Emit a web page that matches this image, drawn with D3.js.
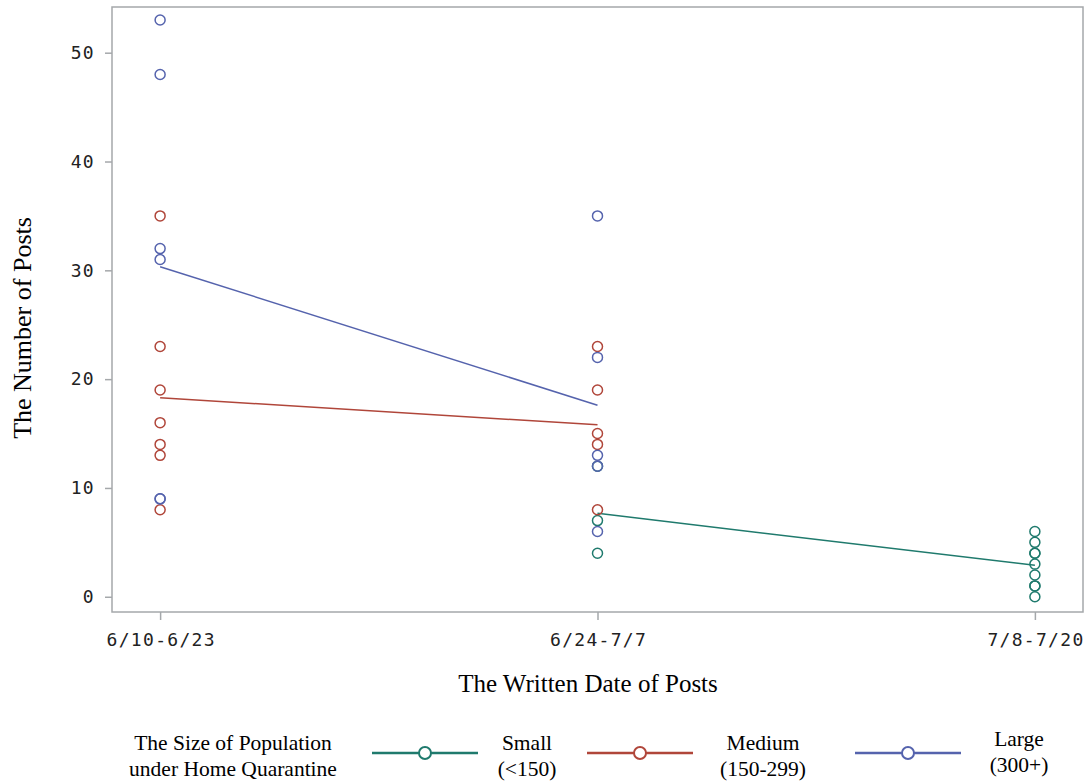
<!DOCTYPE html>
<html>
<head>
<meta charset="utf-8">
<script src="https://cdn.jsdelivr.net/npm/d3@7"></script>
<style>
  body { margin: 0; background: #fff; }
  .tick text { font-family: "DejaVu Sans Mono", monospace; font-size: 18px; letter-spacing: 1.3px; fill: #222; }
  .serif { font-family: "Liberation Serif", "Times New Roman", serif; fill: #000; }
</style>
</head>
<body>
<svg id="canvas" width="1084" height="783"></svg>
<script>
// periods on the x axis
const periods = ['6/10-6/23', '6/24-7/7', '7/8-7/20']

// posts per group and period
const smallPosts = [
    [],
    [7, 4, 12],
    [6, 5, 4, 4, 3, 2, 1, 1, 0]
]
const mediumPosts = [
    [35, 23, 19, 16, 14, 13, 8],
    [23, 19, 15, 14, 8],
    []
]
const largePosts = [
    [53, 48, 32, 31, 9, 9],
    [35, 22, 13, 12, 6],
    []
]

const groupNames = ['Small', 'Medium', 'Large']
const groupLabels = ['(<150)', '(150-299)', '(300+)']
const groupColors = ['#1f7a6d', '#b0463a', '#5563ad']
const yTicks = [0, 10, 20, 30, 40, 50]

const groups = [smallPosts, mediumPosts, largePosts]

let canvas = d3.select('#canvas')

const plotLeft = 112, plotRight = 1083, plotTop = 7, plotBottom = 612

let xScale = d3.scalePoint()
    .domain(periods)
    .range([plotLeft, plotRight])
    .padding(0.11)

let yScale = d3.scaleLinear()
    .domain([-1.4, 54.2])
    .range([plotBottom, plotTop])

// frame
canvas.append('rect')
    .attr('x', plotLeft)
    .attr('y', plotTop)
    .attr('width', plotRight - plotLeft)
    .attr('height', plotBottom - plotTop)
    .attr('fill', 'none')
    .attr('stroke', '#a5a8ab')
    .attr('stroke-width', 1.5)

let yAxis = canvas.append('g')
    .attr('transform', 'translate(' + plotLeft + ',0)')
    .call(d3.axisLeft(yScale).tickValues(yTicks).tickSize(7).tickPadding(10))
yAxis.select('.domain').remove()
yAxis.selectAll('line').attr('stroke', '#a5a8ab').attr('stroke-width', 1.5)

let xAxis = canvas.append('g')
    .attr('transform', 'translate(0,' + plotBottom + ')')
    .call(d3.axisBottom(xScale).tickSize(8).tickPadding(13))
xAxis.select('.domain').remove()
xAxis.selectAll('line').attr('stroke', '#a5a8ab').attr('stroke-width', 1.5)
xAxis.selectAll('text').attr('dx', '0.6px')

// mean lines
groups.forEach((g, i) => {
    let means = []
    g.forEach((vals, p) => {
        if (vals.length > 0) {
            means.push({ period: periods[p], value: d3.mean(vals) })
        }
    })
    let line = d3.line()
        .x((d) => xScale(d.period))
        .y((d) => yScale(d.value))
    canvas.append('path')
        .datum(means)
        .attr('d', line)
        .attr('fill', 'none')
        .attr('stroke', groupColors[i])
        .attr('stroke-width', 1.5)
})

// points
groups.forEach((g, i) => {
    let pts = []
    g.forEach((vals, p) => {
        vals.forEach((v) => pts.push({ period: periods[p], value: v }))
    })
    canvas.append('g')
        .selectAll('circle')
        .data(pts)
        .enter()
        .append('circle')
        .attr('cx', (d) => xScale(d.period))
        .attr('cy', (d) => yScale(d.value))
        .attr('r', 5)
        .attr('fill', 'none')
        .attr('stroke', groupColors[i])
        .attr('stroke-width', 1.5)
})

// axis titles
canvas.append('text')
    .attr('class', 'serif')
    .attr('x', 588)
    .attr('y', 692)
    .attr('text-anchor', 'middle')
    .attr('font-size', 25)
    .text('The Written Date of Posts')

canvas.append('text')
    .attr('class', 'serif')
    .attr('transform', 'translate(31,' + 328 + ') rotate(-90)')
    .attr('text-anchor', 'middle')
    .attr('font-size', 26)
    .text('The Number of Posts')

// legend
let legend = canvas.append('g')
legend.append('text')
    .attr('class', 'serif')
    .attr('x', 233)
    .attr('y', 750)
    .attr('text-anchor', 'middle')
    .attr('font-size', 21.5)
    .text('The Size of Population')
legend.append('text')
    .attr('class', 'serif')
    .attr('x', 233)
    .attr('y', 776)
    .attr('text-anchor', 'middle')
    .attr('font-size', 21.5)
    .text('under Home Quarantine')

const legendX = [372, 587, 855]
const legendTextX = [527, 763, 1019]
groupNames.forEach((name, i) => {
    let item = legend.append('g')
    item.append('line')
        .attr('x1', legendX[i])
        .attr('x2', legendX[i] + 106)
        .attr('y1', 753)
        .attr('y2', 753)
        .attr('stroke', groupColors[i])
        .attr('stroke-width', 2.5)
    item.append('circle')
        .attr('cx', legendX[i] + 53)
        .attr('cy', 753)
        .attr('r', 6)
        .attr('fill', '#fff')
        .attr('stroke', groupColors[i])
        .attr('stroke-width', 2)
    let ty = i === 2 ? 746 : 750
    item.append('text')
        .attr('class', 'serif')
        .attr('x', legendTextX[i])
        .attr('y', ty)
        .attr('text-anchor', 'middle')
        .attr('font-size', 21.5)
        .text(name)
    item.append('text')
        .attr('class', 'serif')
        .attr('x', legendTextX[i])
        .attr('y', ty + 26)
        .attr('text-anchor', 'middle')
        .attr('font-size', 21.5)
        .text(groupLabels[i])
})
</script>
</body>
</html>
